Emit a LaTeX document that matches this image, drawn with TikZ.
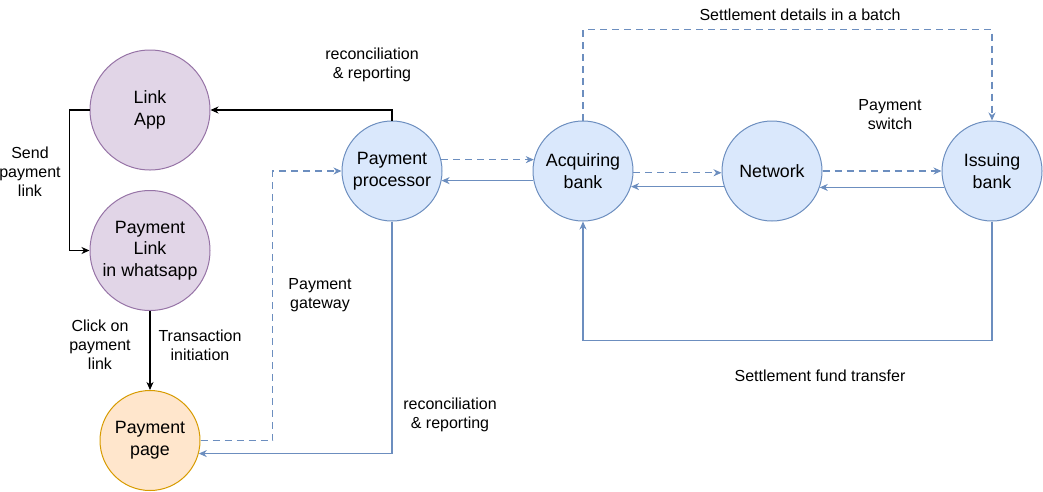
\documentclass[tikz,border=0pt]{standalone}
\usepackage{fontspec}
\setmainfont{Liberation Sans}
\usetikzlibrary{arrows.meta}
\definecolor{purF}{HTML}{E1D5E7}
\definecolor{purD}{HTML}{9673A6}
\definecolor{bluF}{HTML}{DAE8FC}
\definecolor{bluD}{HTML}{6C8EBF}
\definecolor{orgF}{HTML}{FFE6CC}
\definecolor{orgD}{HTML}{D79B00}
\begin{document}
\begin{tikzpicture}[x=1pt,y=-1pt,
  circ/.style={circle, draw, line width=1pt, inner sep=0pt, align=center,
    font=\fontsize{17.8}{21.7}\selectfont},
  pnode/.style={circ, fill=purF, draw=purD, minimum size=120pt},
  bnode/.style={circ, fill=bluF, draw=bluD, minimum size=100pt},
  onode/.style={circ, fill=orgF, draw=orgD, minimum size=100pt},
  lbl/.style={align=center, font=\fontsize{16}{19}\selectfont, inner sep=0pt},
  tip/.style={-{Stealth[length=8pt,width=7pt,inset=2.5pt]}},
  blk/.style={tip, line width=1.1pt, black},
  bsol/.style={tip, line width=1.1pt, bluD},
  bdash/.style={tip, line width=1.1pt, bluD, dash pattern=on 7pt off 5pt}
]
\useasboundingbox (0,0) rectangle (1043,491);

\node[pnode] (app) at (150,110) {Link\\App};
\node[pnode] (wa) at (150,250.5) {Payment\\Link\\in whatsapp};
\node[onode] (page) at (150,440.5) {Payment\\page};
\node[bnode] (proc) at (392,171) {Payment\\processor};
\node[bnode] (acq) at (583,171) {Acquiring\\bank};
\node[bnode] (net) at (772,171) {Network};
\node[bnode] (iss) at (992,171) {Issuing\\bank};

\draw[blk] (app.west) -- ++(-20,0) |- (wa.west);
\draw[blk] (wa.south) -- (page.north);
\draw[bdash] (page.east) -- ++(72,0) |- (proc.west);
\draw[blk] (proc.north) |- (app.east);
\draw[bsol] (proc.south) |- (page.-15);

\draw[bdash] (proc.13) -- (acq.167);
\draw[bsol] (acq.191) -- (proc.-11);
\draw[bdash] (acq.-2) -- (net.182);
\draw[bsol] (net.198.7) -- (acq.-18.7);
\draw[bdash] (net.0) -- (iss.180);
\draw[bsol] (iss.199.9) -- (net.-19.9);

\draw[bdash] (acq.north) -- ++(0,-91) -| (iss.north);
\draw[bsol] (iss.south) -- ++(0,119) -| (acq.south);

\node[lbl] (l1) at (30,172) {Send\\payment\\link};
\node[lbl] (l2) at (100,345) {Click on\\payment\\link};
\node[lbl] (l3) at (200,345) {Transaction\\initiation};
\node[lbl] (l4) at (320,295) {Payment\\gateway};
\node[lbl] (l5) at (372,65) {reconciliation\\\& reporting};
\node[lbl] (l6) at (450,415) {reconciliation\\\& reporting};
\node[lbl] (l7) at (800,15) {Settlement details in a batch};
\node[lbl] (l8) at (890,115) {Payment\\switch};
\node[lbl] (l9) at (820,376) {Settlement fund transfer};
\end{tikzpicture}
\end{document}
